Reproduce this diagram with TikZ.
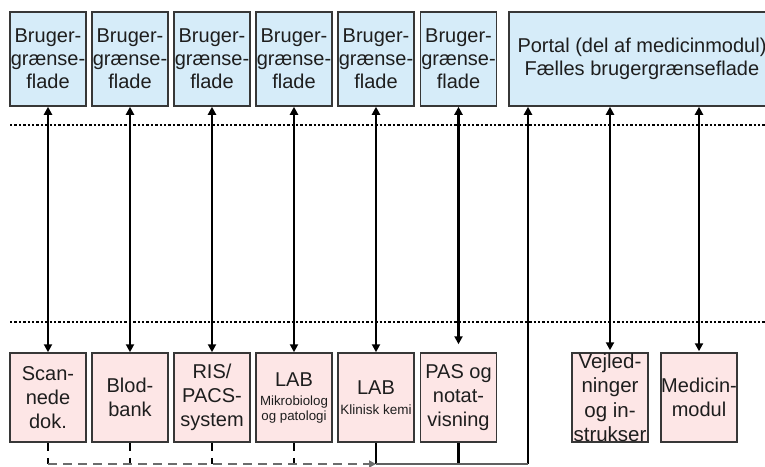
\documentclass[tikz,border=0pt]{standalone}
\usepackage{fontspec}
\setmainfont{Liberation Sans}
\usetikzlibrary{arrows.meta}
\definecolor{topfill}{RGB}{214,236,249}
\definecolor{botfill}{RGB}{253,230,230}
\definecolor{boxline}{RGB}{55,55,55}
\definecolor{txt}{RGB}{30,30,30}
\tikzset{
  topbox/.style={draw=boxline, line width=1.5pt, fill=topfill, minimum width=76pt, minimum height=94pt, inner sep=0pt, align=center, text=txt, font=\fontsize{20}{22.8}\selectfont},
  botbox/.style={draw=boxline, line width=1.5pt, fill=botfill, minimum width=76pt, minimum height=89pt, inner sep=0pt, align=center, text=txt, font=\fontsize{20}{24}\selectfont},
  arr/.style={line width=2.5pt, black, {Triangle[length=8pt,width=8pt]}-{Triangle[length=8pt,width=8pt]}},
  uparr/.style={line width=2.5pt, black, -{Triangle[length=8pt,width=8pt]}},
  dotline/.style={line width=2.8pt, black, dash pattern=on 2.4pt off 2pt},
  dashv/.style={line width=2.6pt, black, dash pattern=on 8pt off 7pt},
  dashh/.style={line width=2pt, gray!85!black, dash pattern=on 9pt off 6pt, -{Triangle[length=7pt,width=7pt]}},
  solidbus/.style={line width=2.5pt, black},
  solidh/.style={line width=1.6pt, gray!75!black}
}
\begin{document}
\begin{tikzpicture}[x=1pt,y=-1pt]
\useasboundingbox (0,0) rectangle (765,466);
\clip (0,0) rectangle (765,466);
% top boxes
\node[topbox] (t1) at (48,59) {Bruger-\\grænse-\\flade};
\node[topbox] (t2) at (130,59) {Bruger-\\grænse-\\flade};
\node[topbox] (t3) at (212,59) {Bruger-\\grænse-\\flade};
\node[topbox] (t4) at (294,59) {Bruger-\\grænse-\\flade};
\node[topbox] (t5) at (376,59) {Bruger-\\grænse-\\flade};
\node[topbox] (t6) at (458.5,59) {Bruger-\\grænse-\\flade};
\node[topbox, minimum width=266pt, font=\fontsize{20}{23}\selectfont] (t7) at (642,59) {Portal (del af medicinmodul)\\Fælles brugergrænseflade};
% separators
\coordinate (d1a) at (10,125); \coordinate (d1b) at (768,125);
\coordinate (d2a) at (10,322); \coordinate (d2b) at (768,322);
\draw[dotline] (d1a) -- (d1b);
\draw[dotline] (d2a) -- (d2b);
% bottom boxes
\node[botbox] (b1) at (48,397.5) {Scan-\\nede\\dok.};
\node[botbox] (b2) at (130,397.5) {Blod-\\bank};
\node[botbox] (b3) at (212,397.5) {RIS/\\PACS-\\system};
\node[botbox] (b4) at (294,397.5) {LAB\\[-5pt]{\fontsize{13.3}{15}\selectfont Mikrobiolog}\\[-9pt]{\fontsize{13.3}{15}\selectfont og patologi}};
\node[botbox] (b5) at (376,397.5) {LAB\\[-4pt]{\fontsize{13.5}{15}\selectfont Klinisk kemi}};
\node[botbox] (b6) at (458.5,397.5) {PAS og\\notat-\\visning};
\node[botbox, label={[text=txt, align=center, font=\fontsize{20.5}{24.5}\selectfont]center:Vejled-\\ninger\\og in-\\strukser}] (b8) at (610,397.5) {};
\node[botbox] (b9) at (699,397.5) {Medicin-\\modul};
% vertical arrows
\draw[arr] (t1.south) -- (b1.north);
\draw[arr] (t2.south) -- (b2.north);
\draw[arr] (t3.south) -- (b3.north);
\draw[arr] (t4.south) -- (b4.north);
\draw[arr] (t5.south) -- (b5.north);
\draw[arr] (t6.south) -- ([yshift=8pt]b6.north);
\draw[arr] (b8.north |- t7.south) -- ([yshift=2pt]b8.north);
\draw[arr] (b9.north |- t7.south) -- ([yshift=1pt]b9.north);
% bus
\coordinate (bus) at (528,464);
\coordinate (j5) at (b5.south |- bus);
\draw[uparr] (bus) -- (bus |- t7.south);
\draw[solidbus] (b5.south) -- (j5);
\draw[solidbus] (b6.south) -- (b6.south |- bus);
\draw[solidh] (j5) -- (bus);
\draw[dashv] (b1.south) -- (b1.south |- bus);
\draw[dashv] (b2.south) -- (b2.south |- bus);
\draw[dashv] (b3.south) -- (b3.south |- bus);
\draw[dashv] (b4.south) -- (b4.south |- bus);
\draw[dashh] (b1.south |- bus) -- (j5);
\end{tikzpicture}
\end{document}
